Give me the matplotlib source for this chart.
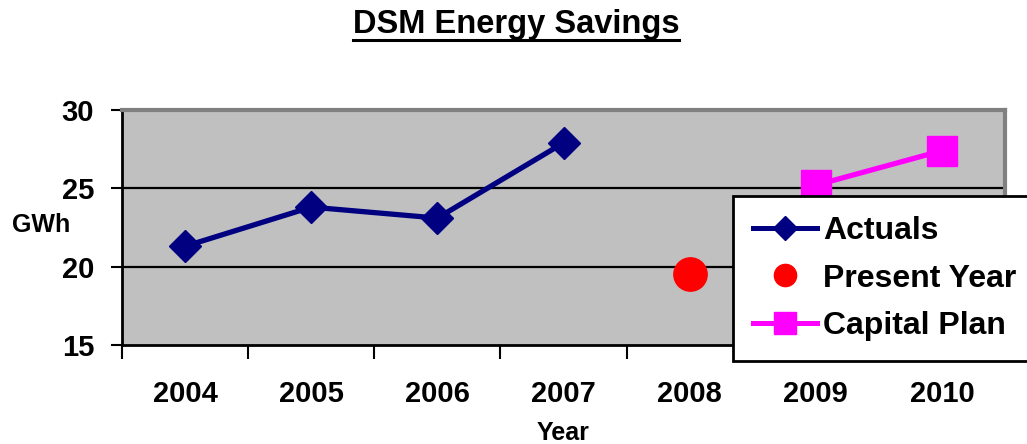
import matplotlib
matplotlib.use("Agg")
import matplotlib.pyplot as plt
from matplotlib.lines import Line2D
import numpy as np

years = ["2004", "2005", "2006", "2007", "2008", "2009", "2010"]
actuals = [21.3, 23.8, 23.1, 27.9, None, None, None]
present_year = [None, None, None, None, 19.5, None, None]
capital_plan = [None, None, None, None, None, 25.2, 27.4]
yticks = [15, 20, 25, 30]

plt.rcParams['font.family'] = ['Liberation Sans', 'DejaVu Sans']
plt.rcParams['font.weight'] = 'bold'

fig = plt.figure(figsize=(10.27, 4.44), dpi=100)
ax = fig.add_axes([0.1188, 0.2230, 0.8598, 0.5293])
ax.set_facecolor('#C0C0C0')

x = np.arange(len(years))
def arr(v):
    return np.array([np.nan if a is None else a for a in v], dtype=float)

navy = '#000080'
magenta = '#FF00FF'
ax.plot(x, arr(actuals), color=navy, lw=3.8, marker='D', markersize=16.5, zorder=5, clip_on=False)
ax.plot(x, arr(present_year), color='red', lw=0, marker='o', markersize=24, zorder=5, clip_on=False)
ax.plot(x, arr(capital_plan), color=magenta, lw=3.8, marker='s', markersize=21.5, zorder=5, clip_on=False)

ax.set_xlim(-0.5, len(years) - 0.5)
ax.set_ylim(15, 30)
ax.set_yticks(yticks)
ax.set_yticklabels([str(t) for t in yticks], fontsize=21, fontweight='bold')
for t in [20, 25]:
    ax.axhline(t, color='black', lw=1.6, zorder=1)

ax.set_xticks(x)
ax.set_xticklabels(years, fontsize=21, fontweight='bold')
ax.set_xticks(np.arange(-0.5, len(years)), minor=True)
ax.tick_params(axis='x', which='major', length=0, pad=25)
ax.tick_params(axis='x', which='minor', length=10, width=1.5, direction='out', color='black')
ax.tick_params(axis='y', length=8, width=1.5, direction='out', pad=12)

for s in ['left', 'bottom']:
    ax.spines[s].set_color('black')
    ax.spines[s].set_linewidth(2)
for s in ['top', 'right']:
    ax.spines[s].set_color('#808080')
    ax.spines[s].set_linewidth(3)

ax.set_xlabel('Year', fontsize=18, fontweight='bold', va='center')
ax.xaxis.set_label_coords(0.5, (345 - 433) / 235)
fig.text(0.012, 1 - 225/444, 'GWh', fontsize=18, fontweight='bold', va='center', ha='left')

title = fig.text(516/1027, 1 - 24/444, 'DSM Energy Savings', fontsize=23.5, fontweight='bold',
                 ha='center', va='center')
fig.canvas.draw()
bb = title.get_window_extent().transformed(fig.transFigure.inverted())
fig.add_artist(Line2D([bb.x0, bb.x1], [1 - 40/444, 1 - 40/444], color='black', lw=2.2,
                      transform=fig.transFigure))

handles = [
    Line2D([], [], color=navy, lw=3.6, marker='D', markersize=12),
    Line2D([], [], color='red', lw=0, marker='o', markersize=16),
    Line2D([], [], color=magenta, lw=3.6, marker='s', markersize=16),
]
leg = fig.legend(handles, ['Actuals', 'Present Year', 'Capital Plan'],
                 loc='lower left', bbox_to_anchor=(733/1027, 1 - 361/444),
                 prop={'weight': 'bold', 'size': 23},
                 frameon=True, fancybox=False, edgecolor='black', framealpha=1,
                 handlelength=2.0, handletextpad=0.2, labelspacing=0.55,
                 borderpad=0.62, borderaxespad=0)
leg.get_frame().set_linewidth(2)
leg.set_zorder(10)

fig.savefig('out.png', dpi=100)
